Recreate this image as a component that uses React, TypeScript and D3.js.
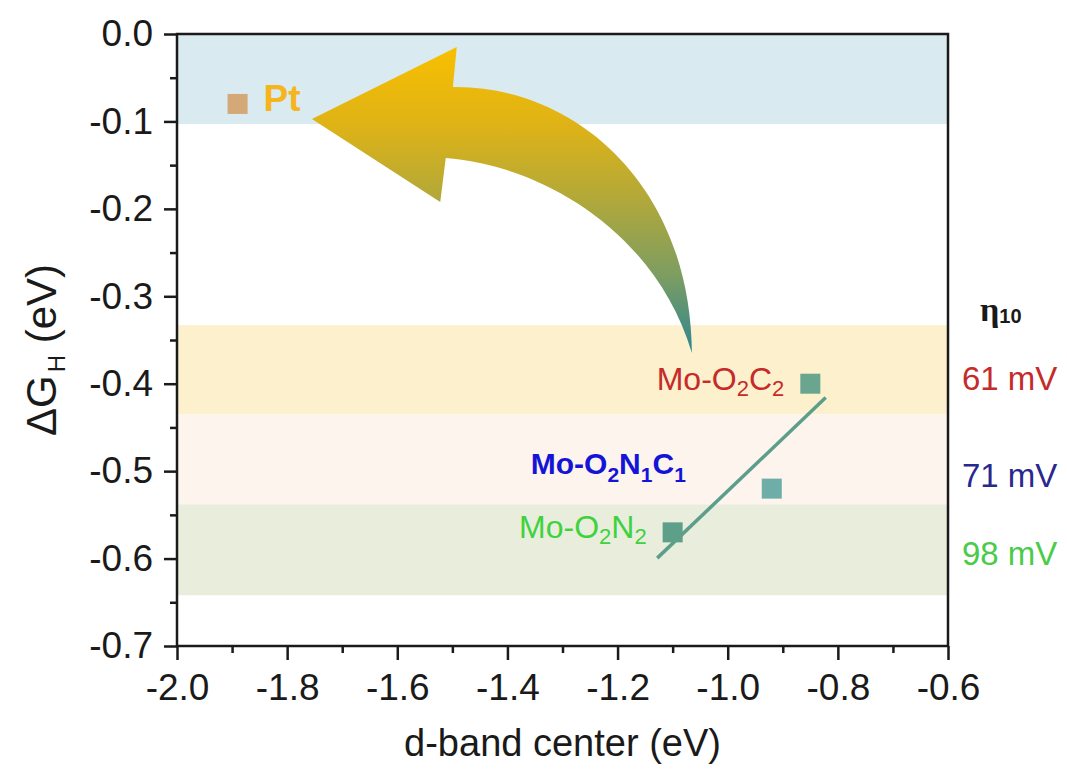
import React, { useEffect, useRef } from "react";
import * as d3 from "d3";

// Adsorption free energy vs. d-band center
const materials = ["Pt", "Mo-O2C2", "Mo-O2N1C1", "Mo-O2N2"];
const dBandCenter = [-1.89, -0.85, -0.92, -1.1];
const deltaGH = [-0.08, -0.4, -0.52, -0.57];
const markerColors = ["#d5a878", "#6aa58f", "#6fada8", "#5e9f89"];

// Highlight bands (ΔG_H ranges)
const bandTop = [0, -0.333, -0.435, -0.538];
const bandBottom = [-0.103, -0.435, -0.538, -0.642];
const bandColors = ["#d9ebf1", "#fdf0cd", "#fdf4ed", "#e9eddc"];

// Axis ticks
const xTicks = [-2.0, -1.8, -1.6, -1.4, -1.2, -1.0, -0.8, -0.6];
const xMinorTicks = [-1.9, -1.7, -1.5, -1.3, -1.1, -0.9, -0.7];
const yTicks = [0, -0.1, -0.2, -0.3, -0.4, -0.5, -0.6, -0.7];
const yMinorTicks = [-0.05, -0.15, -0.25, -0.35, -0.45, -0.55, -0.65];

// Overpotentials at 10 mA cm^-2
const overpotentialLabels = ["61 mV", "71 mV", "98 mV"];
const overpotentialLevels = [-0.407, -0.518, -0.607];
const overpotentialColors = ["#c52b2b", "#28288e", "#4acb4a"];

// Linear fit drawn over this d-band range
const fitRange = [-1.128, -0.822];

// Curved arrow outline (data units)
const arrowOutline: (string | number)[][] = [
  ["M", -1.755, -0.0972],
  ["L", -1.492, -0.0149],
  ["L", -1.499, -0.0606],
  ["C", -1.286, -0.0583, -1.068, -0.167, -1.065, -0.3649],
  ["C", -1.132, -0.2242, -1.341, -0.1498, -1.512, -0.1418],
  ["L", -1.522, -0.1922],
  ["Z"],
];

type Part = { t: string; sub?: boolean };
const labelParts: Part[][] = [
  [{ t: "Pt" }],
  [{ t: "Mo-O" }, { t: "2", sub: true }, { t: "C" }, { t: "2", sub: true }],
  [
    { t: "Mo-O" },
    { t: "2", sub: true },
    { t: "N" },
    { t: "1", sub: true },
    { t: "C" },
    { t: "1", sub: true },
  ],
  [{ t: "Mo-O" }, { t: "2", sub: true }, { t: "N" }, { t: "2", sub: true }],
];
const labelColors = ["#f5b51c", "#c62a2a", "#1414d8", "#3fd23f"];

const W = 1067;
const H = 772;
const margin = { left: 177, top: 34, right: 119, bottom: 126 };
const FONT = "'Liberation Sans', Arial, Helvetica, sans-serif";

function SubText(props: {
  parts: Part[];
  x: number;
  y: number;
  anchor: string;
  size: number;
  subSize: number;
  shift: number;
  color: string;
  bold?: boolean;
}) {
  const { parts, x, y, anchor, size, subSize, shift, color, bold } = props;
  let offset = 0;
  return (
    <text
      x={x}
      y={y}
      textAnchor={anchor}
      fill={color}
      fontFamily={FONT}
      fontSize={size}
      fontWeight={bold ? "bold" : "normal"}
    >
      {parts.map((p, i) => {
        const target = p.sub ? shift : 0;
        const dy = target - offset;
        offset = target;
        return (
          <tspan key={i} dy={dy} fontSize={p.sub ? subSize : size}>
            {p.t}
          </tspan>
        );
      })}
    </text>
  );
}

export default function App() {
  const xAxisRef = useRef<SVGGElement>(null);
  const yAxisRef = useRef<SVGGElement>(null);
  const xMinorRef = useRef<SVGGElement>(null);
  const yMinorRef = useRef<SVGGElement>(null);

  const x = d3
    .scaleLinear()
    .domain([-2.0, -0.6])
    .range([margin.left, W - margin.right]);
  const y = d3
    .scaleLinear()
    .domain([-0.7, 0])
    .range([H - margin.bottom, margin.top]);

  useEffect(() => {
    const fmt = (v: d3.NumberValue) => (+v).toFixed(1).replace("-0.0", "0.0");
    const style = (g: d3.Selection<SVGGElement, unknown, null, undefined>) => {
      g.selectAll("line").attr("stroke", "#1a1a1a").attr("stroke-width", 2.5);
      g.select(".domain").remove();
      g.selectAll("text")
        .attr("fill", "#1a1a1a")
        .style("font-family", FONT)
        .style("font-size", "37px");
    };
    const xa = d3.select(xAxisRef.current!);
    xa.call(
      d3.axisBottom(x).tickValues(xTicks).tickSize(14).tickPadding(14).tickSizeOuter(0).tickFormat(fmt)
    );
    style(xa);
    const ya = d3.select(yAxisRef.current!);
    ya.call(
      d3.axisLeft(y).tickValues(yTicks).tickSize(13).tickPadding(11).tickSizeOuter(0).tickFormat(fmt)
    );
    style(ya);
    const xm = d3.select(xMinorRef.current!);
    xm.call(d3.axisBottom(x).tickValues(xMinorTicks).tickSize(7).tickFormat(() => ""));
    style(xm);
    const ym = d3.select(yMinorRef.current!);
    ym.call(d3.axisLeft(y).tickValues(yMinorTicks).tickSize(7).tickFormat(() => ""));
    style(ym);
  }, []);

  // least-squares fit through the Mo sites
  const moX = dBandCenter.slice(1);
  const moY = deltaGH.slice(1);
  const mx = d3.mean(moX)!;
  const my = d3.mean(moY)!;
  const slope =
    d3.sum(moX.map((v, i) => (v - mx) * (moY[i] - my))) /
    d3.sum(moX.map((v) => (v - mx) ** 2));
  const intercept = my - slope * mx;
  const fitLine = d3
    .line<number>()
    .x((d) => x(d))
    .y((d) => y(slope * d + intercept))(fitRange)!;

  const ap = d3.path();
  arrowOutline.forEach((c) => {
    const [cmd, ...v] = c as [string, ...number[]];
    if (cmd === "M") ap.moveTo(x(v[0]), y(v[1]));
    else if (cmd === "L") ap.lineTo(x(v[0]), y(v[1]));
    else if (cmd === "C")
      ap.bezierCurveTo(x(v[0]), y(v[1]), x(v[2]), y(v[3]), x(v[4]), y(v[5]));
    else ap.closePath();
  });

  const x0 = margin.left;
  const x1 = W - margin.right;
  const sq = 20;

  // label placement relative to each marker
  const labelDx = [26, -26, -241, -26];
  const labelDy = [7.5, 6, -15, 5.5];
  const labelAnchor = ["start", "end", "start", "end"];

  return (
    <svg
      width={W}
      height={H}
      style={{ position: "absolute", left: 0, top: 0, background: "#fff" }}
    >
      <defs>
        <linearGradient id="arrowFill" x1="0" y1="0" x2="0" y2="1">
          <stop offset="0" stopColor="#f9bf00" />
          <stop offset="0.25" stopColor="#dfb316" />
          <stop offset="0.5" stopColor="#b1a83a" />
          <stop offset="0.75" stopColor="#7c9d62" />
          <stop offset="1" stopColor="#2d8691" />
        </linearGradient>
      </defs>

      {bandTop.map((t, i) => (
        <rect
          key={i}
          x={x0}
          y={y(t)}
          width={x1 - x0}
          height={y(bandBottom[i]) - y(t)}
          fill={bandColors[i]}
        />
      ))}

      <path d={ap.toString()} fill="url(#arrowFill)" />

      <path d={fitLine} stroke="#5c9e8b" strokeWidth={3.5} fill="none" />

      {dBandCenter.map((d, i) => (
        <rect
          key={i}
          x={x(d) - sq / 2}
          y={y(deltaGH[i]) - sq / 2}
          width={sq}
          height={sq}
          fill={markerColors[i]}
        />
      ))}

      {materials.map((m, i) =>
        i === 0 ? (
          <text
            key={m}
            x={x(dBandCenter[i]) + labelDx[i]}
            y={y(deltaGH[i]) + labelDy[i]}
            fill={labelColors[i]}
            fontFamily={FONT}
            fontWeight="bold"
            fontSize={37}
          >
            {m}
          </text>
        ) : (
          <SubText
            key={m}
            parts={labelParts[i]}
            x={x(dBandCenter[i]) + labelDx[i]}
            y={y(deltaGH[i]) + labelDy[i]}
            anchor={labelAnchor[i]}
            size={i === 2 ? 30 : 32}
            subSize={i === 2 ? 21 : 22}
            shift={i === 2 ? 8 : 6}
            color={labelColors[i]}
            bold={i === 2}
          />
        )
      )}

      <rect
        x={x0}
        y={margin.top}
        width={x1 - x0}
        height={H - margin.bottom - margin.top}
        fill="none"
        stroke="#1a1a1a"
        strokeWidth={2.5}
      />
      <g ref={xAxisRef} transform={`translate(0,${H - margin.bottom})`} />
      <g ref={xMinorRef} transform={`translate(0,${H - margin.bottom})`} />
      <g ref={yAxisRef} transform={`translate(${margin.left},0)`} />
      <g ref={yMinorRef} transform={`translate(${margin.left},0)`} />

      <text
        x={(x0 + x1) / 2}
        y={756}
        textAnchor="middle"
        fontFamily={FONT}
        fontSize={38}
        fill="#1a1a1a"
      >
        d-band center (eV)
      </text>

      <text
        transform={`translate(56,350) rotate(-90)`}
        textAnchor="middle"
        fontFamily={FONT}
        fontSize={42}
        fill="#1a1a1a"
      >
        <tspan>ΔG</tspan>
        <tspan fontSize={24} dy={9} dx={3}>
          H
        </tspan>
        <tspan dy={-9}> (eV)</tspan>
      </text>

      <text
        x={980}
        y={321}
        fontFamily="'Liberation Serif', 'DejaVu Serif', serif"
        fontWeight="bold"
        fill="#1a1a1a"
      >
        <tspan fontSize={34}>η</tspan>
        <tspan fontSize={20} fontFamily={FONT} dy={2}>
          10
        </tspan>
      </text>

      {overpotentialLabels.map((l, i) => (
        <text
          key={l}
          x={962}
          y={y(overpotentialLevels[i])}
          fontFamily={FONT}
          fontSize={33}
          fill={overpotentialColors[i]}
        >
          {l}
        </text>
      ))}
    </svg>
  );
}
